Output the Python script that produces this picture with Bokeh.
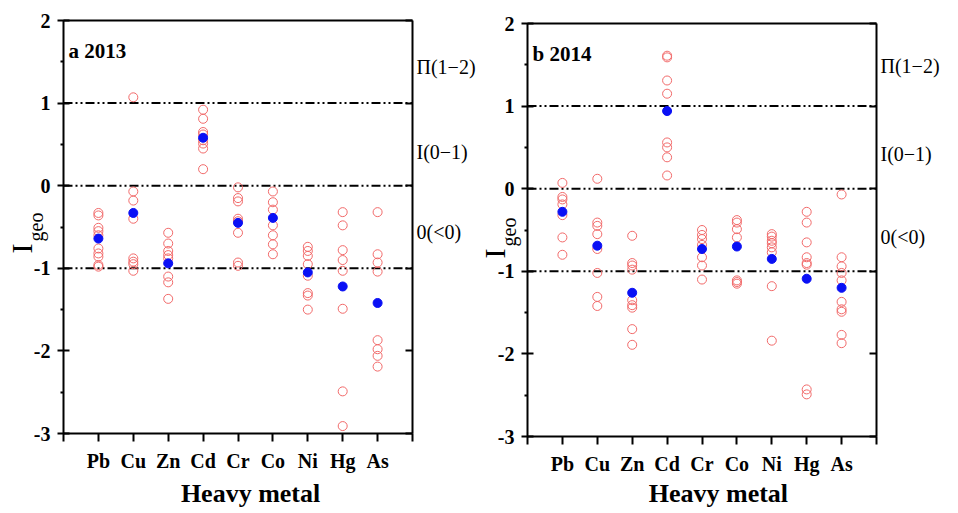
import math
from bokeh.plotting import figure
from bokeh.models import Range1d, FixedTicker, LinearAxis, Label, ColumnDataSource
from bokeh.layouts import row
from bokeh.embed import file_html
from bokeh.resources import INLINE

metals = ["Pb", "Cu", "Zn", "Cd", "Cr", "Co", "Ni", "Hg", "As"]

# 2013 samples (Igeo)
pb_2013 = [-0.33, -0.36, -0.51, -0.55, -0.60, -0.76, -0.82, -0.86, -0.96, -0.98]
cu_2013 = [1.07, -0.07, -0.18, -0.40, -0.88, -0.92, -0.95, -1.03]
zn_2013 = [-0.57, -0.70, -0.79, -0.84, -0.88, -1.10, -1.17, -1.37]
cd_2013 = [0.92, 0.81, 0.65, 0.62, 0.55, 0.51, 0.45, 0.20]
cr_2013 = [-0.02, -0.15, -0.19, -0.40, -0.43, -0.57, -0.93, -0.97]
co_2013 = [-0.07, -0.20, -0.29, -0.48, -0.60, -0.71, -0.83]
ni_2013 = [-0.74, -0.79, -0.85, -0.95, -1.09, -1.30, -1.33, -1.50]
hg_2013 = [-0.32, -0.48, -0.78, -0.90, -1.03, -1.49, -2.49, -2.91]
as_2013 = [-0.32, -0.83, -0.93, -1.04, -1.87, -1.98, -2.06, -2.19]
mean_2013 = [-0.64, -0.33, -0.94, 0.58, -0.45, -0.39, -1.05, -1.22, -1.42]

# 2014 samples (Igeo)
pb_2014 = [0.07, -0.10, -0.13, -0.19, -0.32, -0.59, -0.80]
cu_2014 = [0.12, -0.41, -0.45, -0.55, -0.73, -1.02, -1.31, -1.42]
zn_2014 = [-0.57, -0.90, -0.93, -0.98, -1.35, -1.41, -1.44, -1.70, -1.89]
cd_2014 = [1.61, 1.59, 1.31, 1.15, 0.56, 0.50, 0.38, 0.16]
cr_2014 = [-0.50, -0.56, -0.61, -0.68, -0.83, -0.93, -1.10]
co_2014 = [-0.38, -0.41, -0.49, -0.59, -1.11, -1.13, -1.15]
ni_2014 = [-0.55, -0.58, -0.63, -0.66, -0.71, -0.77, -1.18, -1.84]
hg_2014 = [-0.28, -0.41, -0.65, -0.83, -0.90, -0.92, -2.43, -2.49]
as_2014 = [-0.07, -0.83, -0.94, -1.02, -1.11, -1.37, -1.46, -1.49, -1.77, -1.87]
mean_2014 = [-0.28, -0.69, -1.26, 0.94, -0.73, -0.70, -0.85, -1.09, -1.20]

thresholds = [-1, 0, 1]
class_labels = ["Π(1−2)", "I(0−1)", "0(<0)"]
y_ticks = [-3, -2, -1, 0, 1, 2]
y_minor = [-2.5, -1.5, -0.5, 0.5, 1.5]
X_LO, X_HI = 0, 10
Y_LO, Y_HI = -3, 2

FONT = "Liberation Serif"
RED = "#f26a6a"
BLUE = "#0a10f5"
H = 511
BOX_W, BOX_H = 349, 413


def make_panel(tag, samples, means, width, ml, mt, class_y, igeo_off, hm_pos):
    ppx = BOX_W / (X_HI - X_LO)
    ppy = BOX_H / (Y_HI - Y_LO)
    mr = width - ml - BOX_W
    mb = H - mt - BOX_H
    p = figure(width=width, height=H,
               x_range=Range1d(X_LO - ml / ppx, X_HI + mr / ppx),
               y_range=Range1d(Y_LO - mb / ppy, Y_HI + mt / ppy),
               output_backend="svg", toolbar_location=None,
               min_border=0, x_axis_location=None, y_axis_location=None)
    p.xgrid.visible = False
    p.ygrid.visible = False
    p.outline_line_color = None
    p.background_fill_color = "white"
    p.border_fill_color = "white"

    # bottom axis
    xa = LinearAxis(fixed_location=Y_LO, bounds=(X_LO, X_HI),
                    ticker=FixedTicker(ticks=[i + 1 for i in range(len(metals))],
                                       minor_ticks=[X_LO, X_HI]))
    xa.major_label_overrides = {i + 1: m for i, m in enumerate(metals)}
    xa.major_label_text_font = FONT
    xa.major_label_text_font_style = "bold"
    xa.major_label_text_font_size = "20px"
    xa.major_label_text_color = "black"
    xa.major_tick_out = 8
    xa.major_tick_in = 0
    xa.minor_tick_out = 8
    xa.minor_tick_in = 0
    xa.major_tick_line_width = 2
    xa.minor_tick_line_width = 2
    xa.axis_line_width = 2
    xa.major_label_standoff = 8
    p.add_layout(xa, "below")

    # left axis
    ya = LinearAxis(fixed_location=X_LO, bounds=(Y_LO, Y_HI),
                    ticker=FixedTicker(ticks=y_ticks, minor_ticks=y_minor))
    ya.major_label_overrides = {t: str(t) for t in y_ticks}
    ya.major_label_text_font = FONT
    ya.major_label_text_font_style = "bold"
    ya.major_label_text_font_size = "20px"
    ya.major_label_text_color = "black"
    ya.major_tick_out = 6
    ya.major_tick_in = 6
    ya.minor_tick_out = 3
    ya.minor_tick_in = 0
    ya.major_tick_line_width = 2
    ya.minor_tick_line_width = 2
    ya.axis_line_width = 2
    ya.major_label_standoff = 7
    p.add_layout(ya, "left")

    # right axis: inward ticks only
    ra = LinearAxis(fixed_location=X_HI, bounds=(Y_LO, Y_HI),
                    ticker=FixedTicker(ticks=[], minor_ticks=y_ticks))
    ra.minor_tick_in = 7
    ra.minor_tick_out = 0
    ra.minor_tick_line_width = 2
    ra.axis_line_width = 2
    p.add_layout(ra, "right")

    # top axis: frame line only
    ta = LinearAxis(fixed_location=Y_HI, bounds=(X_LO, X_HI),
                    ticker=FixedTicker(ticks=[], minor_ticks=[]))
    ta.axis_line_width = 2
    p.add_layout(ta, "above")

    # class threshold lines
    p.segment(x0=[X_LO] * len(thresholds), x1=[X_HI] * len(thresholds),
              y0=thresholds, y1=thresholds, line_color="black", line_width=2,
              line_dash="9 3 2 3 2 3")

    xs = [i + 1 for i, vals in enumerate(samples) for _ in vals]
    ys = [v for vals in samples for v in vals]
    src = ColumnDataSource(dict(x=xs, y=ys))
    p.scatter("x", "y", source=src, marker="circle", size=9, fill_color=None,
              line_color=RED, line_width=1)
    msrc = ColumnDataSource(dict(x=[i + 1 for i in range(len(metals))], y=means))
    p.scatter("x", "y", source=msrc, marker="circle", size=9, fill_color=BLUE,
              line_color=BLUE)

    p.add_layout(Label(x=X_LO, y=Y_HI, x_offset=5, y_offset=-30, text=tag, text_font=FONT,
                       text_font_style="bold", text_font_size="21px", text_color="black",
                       text_baseline="alphabetic", text_align="left"))

    for lab, cy in zip(class_labels, class_y):
        p.add_layout(Label(x=X_HI, y=cy, x_offset=4, text=lab,
                           text_font=FONT, text_font_size="20px", text_color="black",
                           text_baseline="middle", text_align="left"))

    ixo, iyo, gxo, gyo = igeo_off
    p.add_layout(Label(x=X_LO, y=Y_LO, x_offset=ixo, y_offset=iyo, text="I",
                       angle=math.pi / 2, text_font=FONT,
                       text_font_size="30px", text_color="black",
                       text_baseline="middle", text_align="left"))
    p.add_layout(Label(x=X_LO, y=Y_LO, x_offset=gxo, y_offset=gyo, text="geo",
                       angle=math.pi / 2, text_font=FONT,
                       text_font_size="20px", text_color="black",
                       text_baseline="middle", text_align="left"))

    hx, hyo = hm_pos
    p.add_layout(Label(x=hx, y=Y_LO, y_offset=hyo, text="Heavy metal",
                       text_font=FONT, text_font_style="bold", text_font_size="26px",
                       text_color="black", text_baseline="alphabetic", text_align="center"))
    return p


samples_a = [pb_2013, cu_2013, zn_2013, cd_2013, cr_2013, co_2013, ni_2013, hg_2013, as_2013]
samples_b = [pb_2014, cu_2014, zn_2014, cd_2014, cr_2014, co_2014, ni_2014, hg_2014, as_2014]

p1 = make_panel("a 2013", samples_a, mean_2013, 476, 63, 20,
                [1.44, 0.41, -0.56], (-42, 180, -28, 192), (5.36, -60))
p2 = make_panel("b 2014", samples_b, mean_2014, 482, 51, 23,
                [1.48, 0.42, -0.58], (-33, 178, -19, 190), (5.47, -57))

layout = row(p1, p2)
open("out.html", "w").write(file_html(layout, INLINE))
